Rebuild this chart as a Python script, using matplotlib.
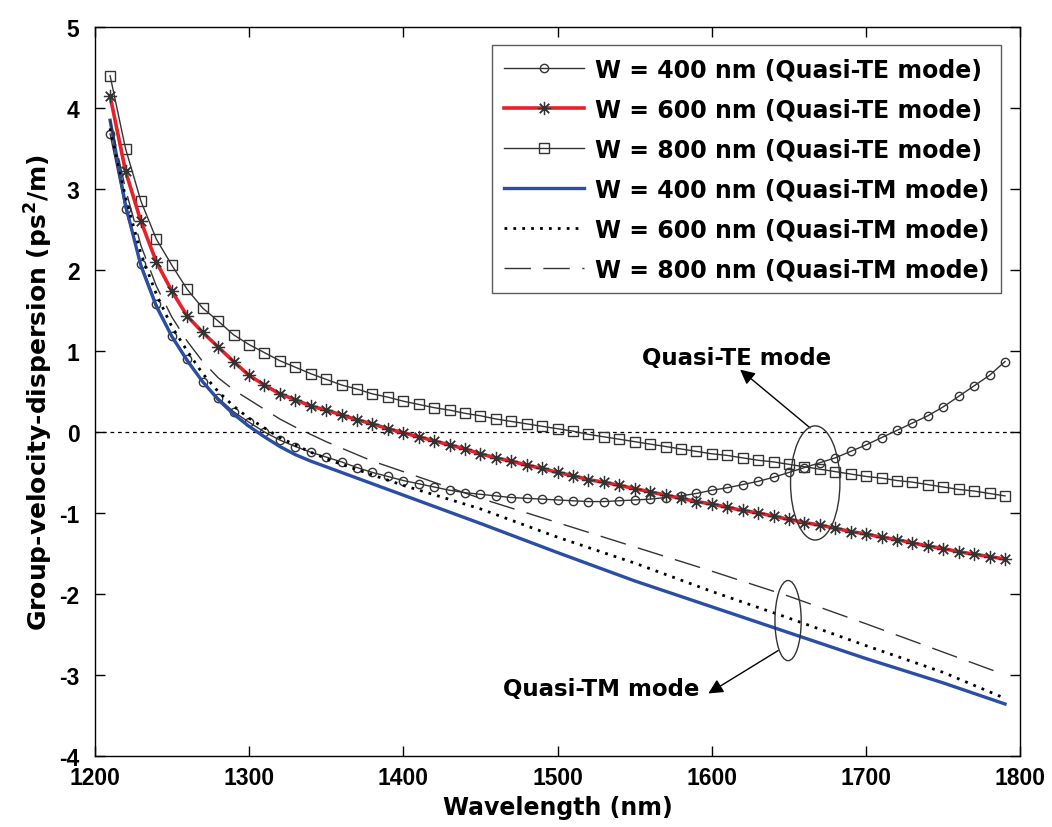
import matplotlib
matplotlib.use("Agg")
import matplotlib.pyplot as plt
from matplotlib.patches import Ellipse

plt.rcParams['font.family'] = ['Liberation Sans', 'DejaVu Sans']
plt.rcParams['axes.unicode_minus'] = False
plt.rcParams['mathtext.fontset'] = 'dejavusans'

wavelength = [1210, 1220, 1230, 1240, 1250, 1260, 1270, 1280, 1290, 1300,
              1310, 1320, 1330, 1340, 1350, 1360, 1370, 1380, 1390, 1400,
              1410, 1420, 1430, 1440, 1450, 1460, 1470, 1480, 1490, 1500,
              1510, 1520, 1530, 1540, 1550, 1560, 1570, 1580, 1590, 1600,
              1610, 1620, 1630, 1640, 1650, 1660, 1670, 1680, 1690, 1700,
              1710, 1720, 1730, 1740, 1750, 1760, 1770, 1780, 1790]

te_400 = [3.68, 2.75, 2.08, 1.58, 1.19, 0.90, 0.62, 0.42, 0.25, 0.12,
          0.00, -0.10, -0.18, -0.25, -0.31, -0.37, -0.44, -0.50, -0.55, -0.60,
          -0.64, -0.68, -0.72, -0.75, -0.77, -0.79, -0.81, -0.82, -0.83, -0.84,
          -0.85, -0.86, -0.86, -0.85, -0.84, -0.83, -0.81, -0.79, -0.76, -0.72,
          -0.69, -0.65, -0.61, -0.56, -0.50, -0.44, -0.38, -0.32, -0.24, -0.16,
          -0.07, 0.02, 0.11, 0.20, 0.31, 0.44, 0.57, 0.70, 0.87]

te_600 = [4.15, 3.22, 2.60, 2.10, 1.74, 1.43, 1.23, 1.05, 0.87, 0.70,
          0.58, 0.47, 0.40, 0.32, 0.27, 0.21, 0.15, 0.10, 0.04, -0.01,
          -0.06, -0.11, -0.16, -0.21, -0.27, -0.32, -0.36, -0.41, -0.45, -0.50,
          -0.54, -0.59, -0.62, -0.66, -0.70, -0.74, -0.78, -0.82, -0.86, -0.89,
          -0.93, -0.97, -1.00, -1.04, -1.08, -1.12, -1.15, -1.19, -1.23, -1.26,
          -1.30, -1.33, -1.37, -1.41, -1.44, -1.48, -1.51, -1.54, -1.57]

te_800 = [4.40, 3.50, 2.85, 2.38, 2.06, 1.76, 1.53, 1.37, 1.20, 1.08,
          0.98, 0.88, 0.80, 0.72, 0.65, 0.58, 0.53, 0.47, 0.43, 0.38,
          0.34, 0.30, 0.27, 0.23, 0.20, 0.16, 0.13, 0.10, 0.07, 0.04,
          0.01, -0.03, -0.06, -0.09, -0.12, -0.15, -0.18, -0.21, -0.24, -0.27,
          -0.29, -0.32, -0.35, -0.37, -0.40, -0.43, -0.46, -0.49, -0.52, -0.55,
          -0.57, -0.60, -0.62, -0.65, -0.68, -0.71, -0.73, -0.76, -0.79]

tm_wavelength = [1210, 1220, 1230, 1240, 1250, 1260, 1270, 1280, 1290, 1300,
                 1310, 1320, 1330, 1340, 1350, 1360, 1380, 1400, 1450, 1500,
                 1550, 1600, 1650, 1700, 1750, 1790]

tm_400 = [3.85, 2.80, 2.05, 1.55, 1.18, 0.88, 0.62, 0.40, 0.22, 0.07,
          -0.06, -0.18, -0.28, -0.36, -0.43, -0.50, -0.64, -0.78, -1.13, -1.49,
          -1.84, -2.16, -2.48, -2.80, -3.10, -3.36]

tm_600 = [3.75, 2.90, 2.20, 1.70, 1.30, 1.00, 0.72, 0.50, 0.32, 0.17,
          0.05, -0.07, -0.16, -0.25, -0.33, -0.40, -0.53, -0.66, -0.95, -1.30,
          -1.62, -1.97, -2.30, -2.64, -2.97, -3.29]

tm_800 = [3.85, 3.00, 2.30, 1.80, 1.42, 1.12, 0.87, 0.67, 0.52, 0.40,
          0.28, 0.16, 0.06, -0.03, -0.12, -0.20, -0.36, -0.49, -0.82, -1.12,
          -1.42, -1.72, -2.03, -2.37, -2.72, -3.00]

labels = ['W = 400 nm (Quasi-TE mode)', 'W = 600 nm (Quasi-TE mode)',
          'W = 800 nm (Quasi-TE mode)', 'W = 400 nm (Quasi-TM mode)',
          'W = 600 nm (Quasi-TM mode)', 'W = 800 nm (Quasi-TM mode)']

x_ticks = [1200, 1300, 1400, 1500, 1600, 1700, 1800]
y_ticks = [-4, -3, -2, -1, 0, 1, 2, 3, 4, 5]

WIDE = ['DejaVu Sans']

fig = plt.figure(figsize=(10.52, 8.28), dpi=100)
ax = fig.add_axes([0.090, 0.086, 0.880, 0.880])

ax.axhline(0, color='black', lw=0.9, linestyle=(0, (3, 3)), zorder=1)

ax.plot(wavelength, te_400, color='#333333', lw=1.0, marker='o', ms=6,
        mfc='none', mec='#333333', mew=1.0, label=labels[0], zorder=3)
ax.plot(wavelength, te_600, color='#e8202a', lw=2.6, marker=(8, 2, 0), ms=9.5,
        mec='#333333', mew=0.9, label=labels[1], zorder=4)
ax.plot(wavelength, te_800, color='#333333', lw=1.0, marker='s', ms=6.5,
        mfc='none', mec='#333333', mew=1.0, label=labels[2], zorder=3)
ax.plot(tm_wavelength, tm_400, color='#2a4ea6', lw=2.4, label=labels[3], zorder=3)
ax.plot(tm_wavelength, tm_600, color='black', lw=2.0, linestyle=(0, (1, 2.2)),
        label=labels[4], zorder=3)
ax.plot(tm_wavelength, tm_800, color='#333333', lw=1.0, linestyle=(0, (19, 9)),
        label=labels[5], zorder=3)

ax.set_xlim(1200, 1800)
ax.set_ylim(-4, 5)
ax.set_xticks(x_ticks)
ax.set_yticks(y_ticks)
ax.tick_params(direction='in', top=True, right=True, length=7, width=1,
               labelsize=16.5)
ax.tick_params(axis='x', pad=7)
ax.tick_params(axis='y', pad=11)
for lab in ax.get_xticklabels() + ax.get_yticklabels():
    lab.set_fontweight('bold')
for s in ax.spines.values():
    s.set_linewidth(1.0)

ax.set_xlabel('Wavelength (nm)', fontsize=17, fontweight='bold', family=WIDE,
              labelpad=5)
ax.set_ylabel('Group-velocity-dispersion (ps$^\\mathbf{2}$/m)', fontsize=18,
              fontweight='bold', family=WIDE, labelpad=3)

leg = ax.legend(loc='upper right', bbox_to_anchor=(0.979, 0.975),
                borderaxespad=0, prop={'family': WIDE, 'size': 17, 'weight': 'bold'},
                frameon=True, fancybox=False,
                edgecolor='#333333', handlelength=3.4, labelspacing=0.68,
                handletextpad=0.45, borderpad=0.5)
leg.get_frame().set_linewidth(1.0)

# Annotations
ax.add_patch(Ellipse((1667, -0.63), 32, 1.41, fill=False, ec='#333333', lw=1.0, zorder=5))
ax.add_patch(Ellipse((1649.4, -2.33), 17, 0.99, fill=False, ec='#333333', lw=1.0, zorder=5))

ax.annotate('', xy=(1618.3, 0.77), xytext=(1663.7, 0.05),
            arrowprops=dict(arrowstyle='-|>', color='black', lw=1.0,
                            mutation_scale=22, shrinkA=0, shrinkB=0))
ax.text(1615.7, 0.92, 'Quasi-TE mode', fontsize=16.5, fontweight='bold',
        family=WIDE, ha='center', va='center')

ax.annotate('', xy=(1597.7, -3.23), xytext=(1643, -2.70),
            arrowprops=dict(arrowstyle='-|>', color='black', lw=1.0,
                            mutation_scale=22, shrinkA=0, shrinkB=0))
ax.text(1528, -3.17, 'Quasi-TM mode', fontsize=16.5, fontweight='bold',
        family=WIDE, ha='center', va='center')

fig.savefig('out.png', dpi=100)
